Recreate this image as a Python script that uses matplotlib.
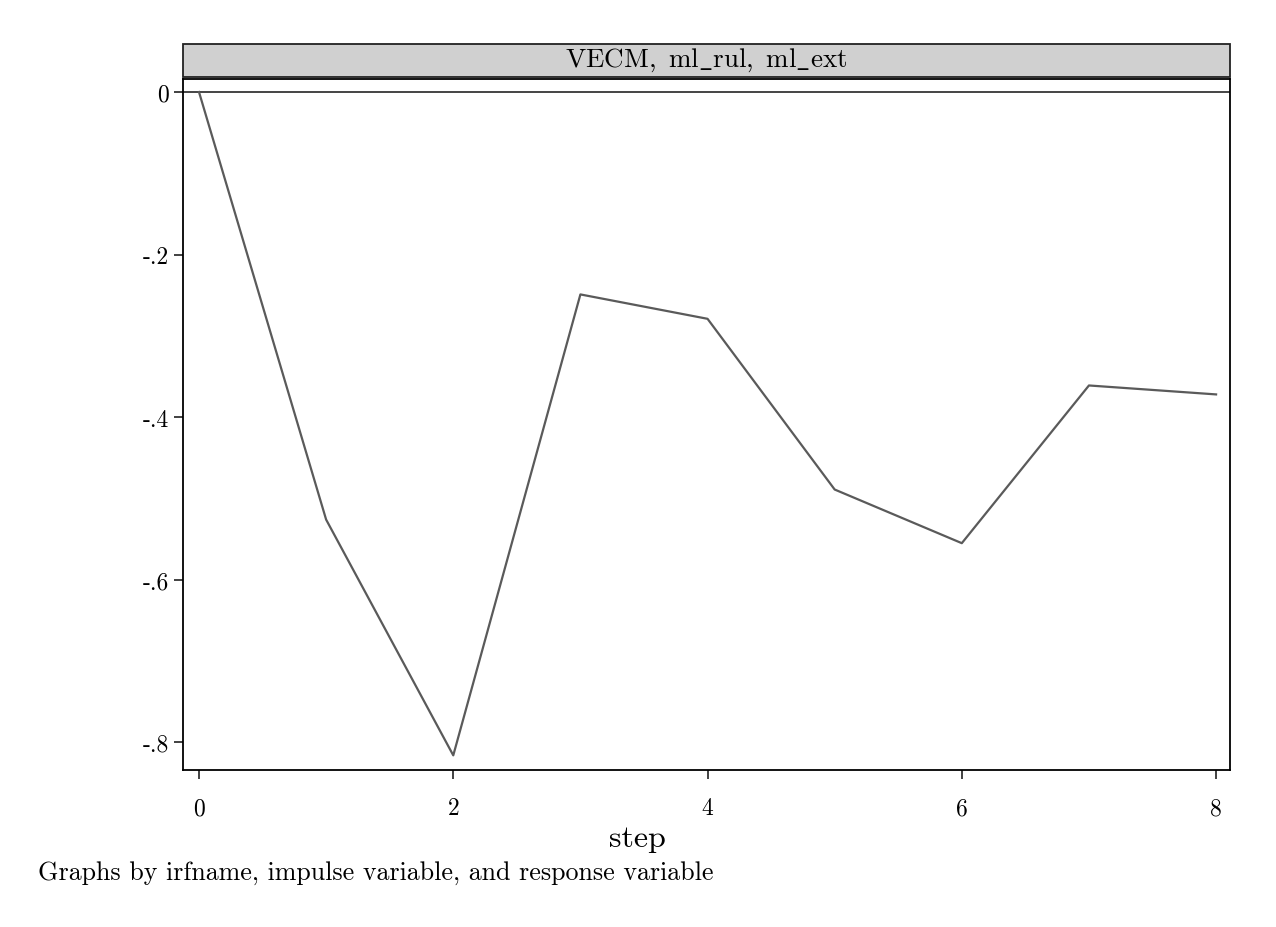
import matplotlib
matplotlib.use('Agg')
import matplotlib.pyplot as plt
from matplotlib.patches import Rectangle

plt.rcParams['font.family'] = ['cmr10', 'DejaVu Serif']
plt.rcParams['mathtext.fontset'] = 'cm'
plt.rcParams['axes.formatter.use_mathtext'] = True

steps = [0, 1, 2, 3, 4, 5, 6, 7, 8]
irf = [0.0, -0.526, -0.816, -0.249, -0.279, -0.489, -0.555, -0.361, -0.372]
yticks = [0, -0.2, -0.4, -0.6, -0.8]
ylabels = ['0', '-.2', '-.4', '-.6', '-.8']
xticks = [0, 2, 4, 6, 8]
title = r'$\mathrm{VECM,\ ml\_rul,\ ml\_ext}$'
note = 'Graphs by irfname, impulse variable, and response variable'

fig = plt.figure(figsize=(12.76, 9.28), dpi=100)
ax = fig.add_axes([0.1434, 0.1692, 0.8206, 0.7446])

ax.axhline(0, color='#444444', lw=1.4)
ax.plot(steps, irf, color='#5a5a5a', lw=1.6)

ax.set_xlim(-0.126, 8.11)
ax.set_ylim(-0.834, 0.016)
ax.set_yticks(yticks)
ax.set_yticklabels(ylabels)
ax.set_xticks(xticks)
ax.set_xticklabels([str(t) for t in xticks])
ax.tick_params(direction='out', length=6.5, width=1.3, labelsize=17, color='#333333')
ax.tick_params(axis='y', pad=3.5)
ax.tick_params(axis='x', pad=13)
for s in ax.spines.values():
    s.set_linewidth(1.3)

# strip title
strip = Rectangle((0.1434, 0.91595), 0.8206, 0.03556, transform=fig.transFigure,
                  facecolor='#d0d0d0', edgecolor='#222222', lw=1.3)
fig.patches.append(strip)
fig.text(0.1434 + 0.8206 / 2, 0.9355, title, ha='center', va='center', fontsize=19.5)

fig.text(0.4992, 1 - 847 / 928, 'step', ha='center', va='baseline', fontsize=23)
fig.text(0.030, 0.059, note, ha='left', va='center', fontsize=18.7)

fig.savefig('out.png', dpi=100, facecolor='white')
